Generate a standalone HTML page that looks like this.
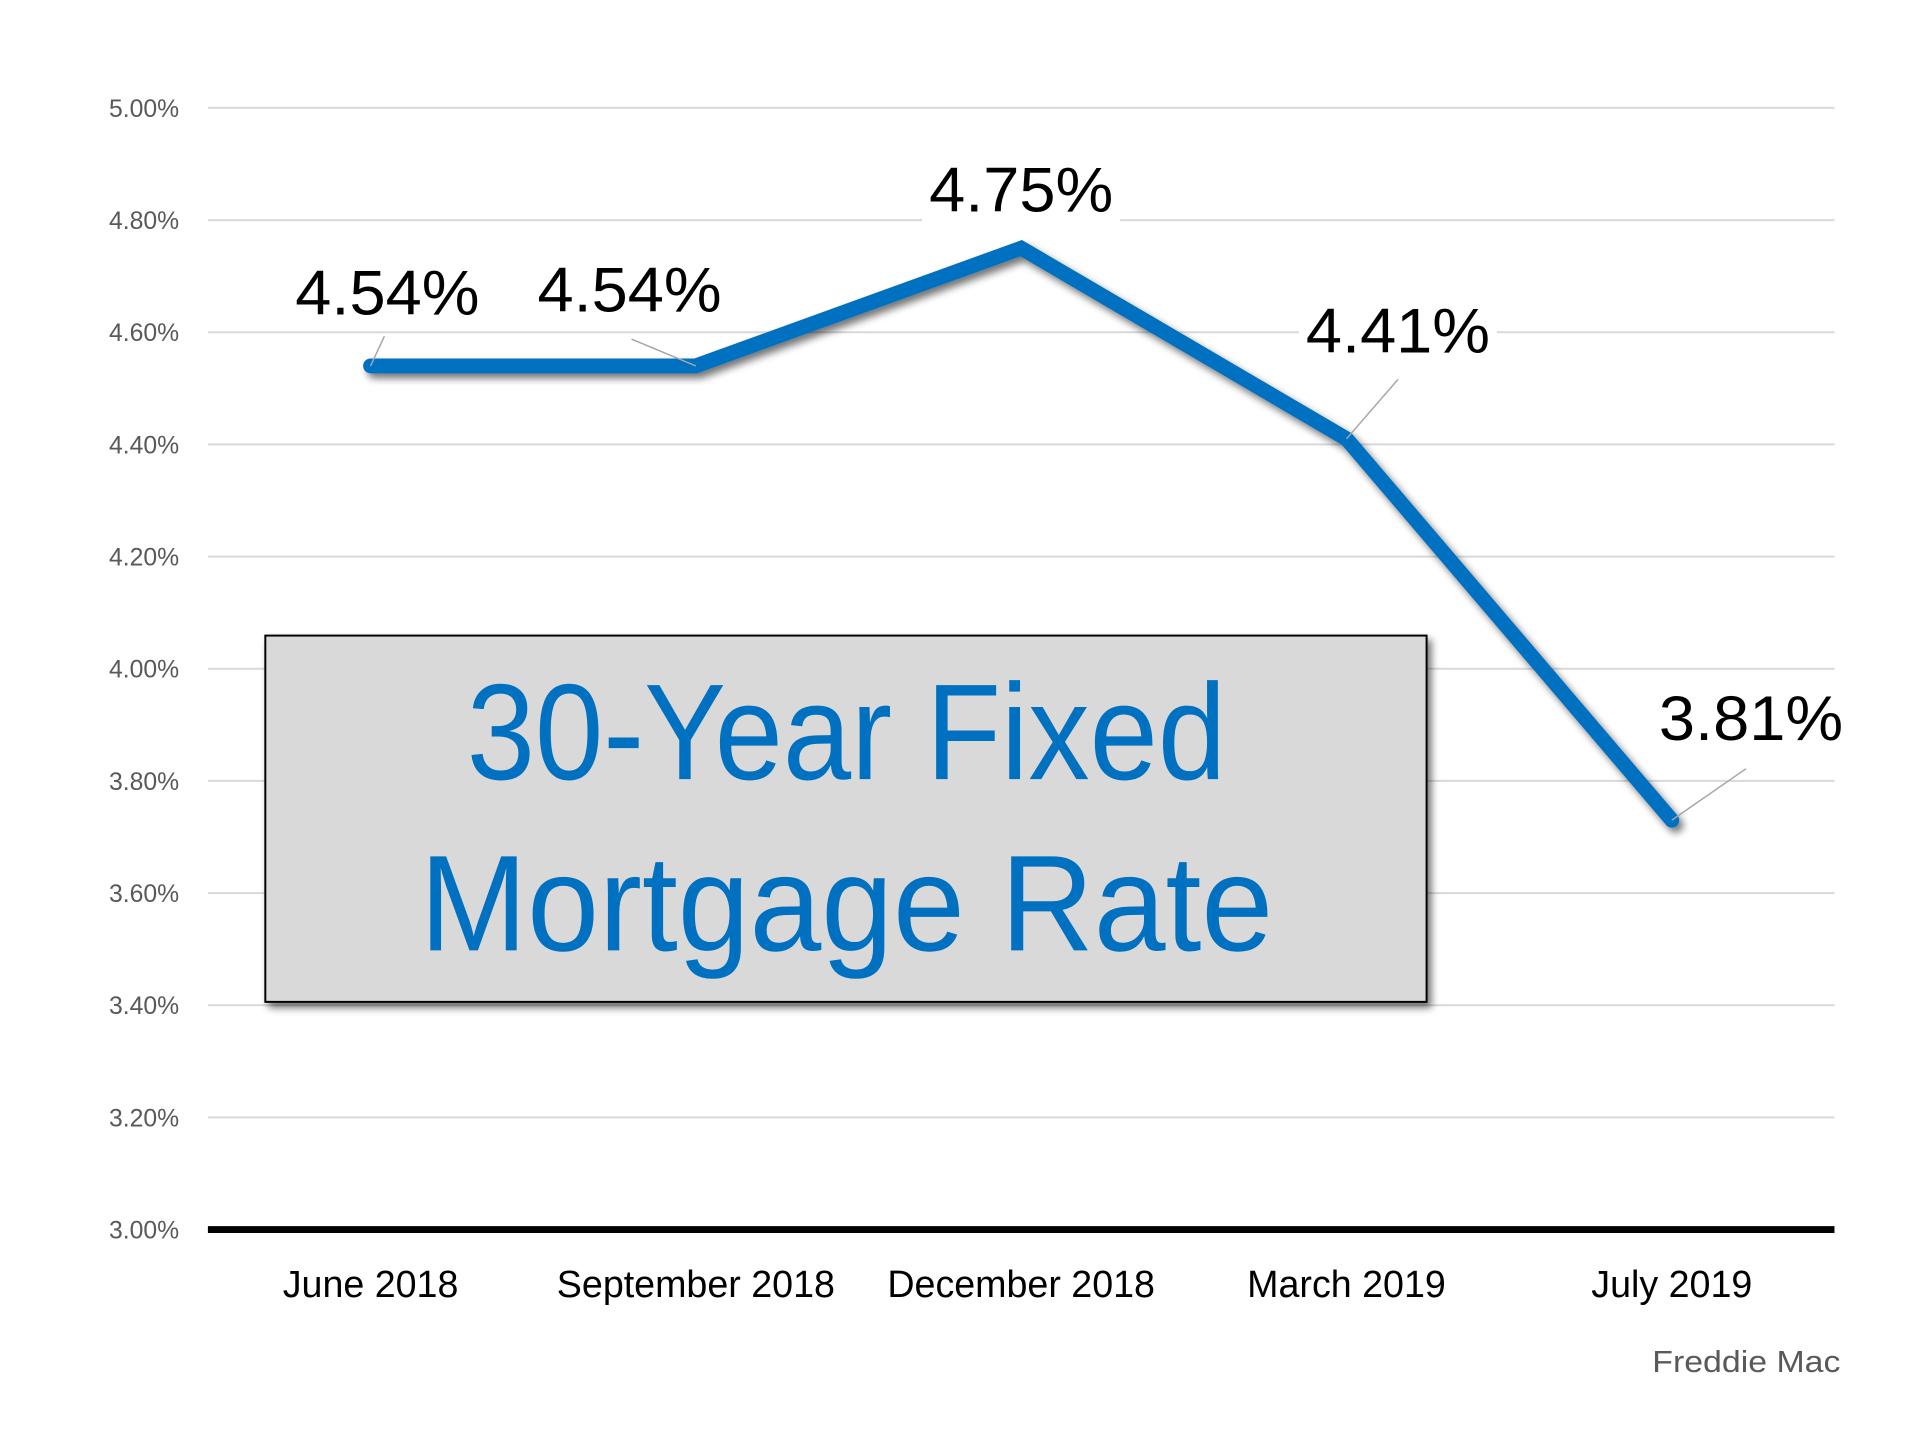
<!DOCTYPE html>
<html><head><meta charset="utf-8"><style>
html,body{margin:0;padding:0;background:#fff;}
svg{display:block;}
</style></head><body>
<svg id="chart" width="1920" height="1439" viewBox="0 0 1920 1439" xmlns="http://www.w3.org/2000/svg" font-family="'Liberation Sans', sans-serif">
<defs>
<filter id="sh" x="-10%" y="-10%" width="120%" height="120%"><feGaussianBlur in="SourceAlpha" stdDeviation="4"/><feOffset dx="4" dy="5"/><feComponentTransfer><feFuncA type="linear" slope="0.55"/></feComponentTransfer><feMerge><feMergeNode/><feMergeNode in="SourceGraphic"/></feMerge></filter>
</defs>
<g transform="scale(0.99)">
<g id="grid"></g>
<g id="yticks"></g>
<g id="xlabels"></g>
<g id="series"></g>
<g id="box">
<rect x="268" y="642" width="1173" height="370" fill="#d9d9d9" stroke="#000" stroke-width="2" filter="url(#sh)"/>
<text x="855" y="787" text-anchor="middle" font-size="138" fill="#0070c0" textLength="767" lengthAdjust="spacingAndGlyphs">30-Year Fixed</text>
<text x="855" y="960" text-anchor="middle" font-size="138" fill="#0070c0" textLength="862" lengthAdjust="spacingAndGlyphs">Mortgage Rate</text>
</g>
<g id="labels"></g>
<text x="1859" y="1386" text-anchor="end" font-size="31" fill="#595959" textLength="190" lengthAdjust="spacingAndGlyphs">Freddie Mac</text>
</g>
</svg>
<script>
const categories = ["June 2018","September 2018","December 2018","March 2019","July 2019"];
const values = [4.54, 4.54, 4.75, 4.41, 3.73];
const valueLabels = ["4.54%","4.54%","4.75%","4.41%","3.81%"];
const yTicks = [3.0,3.2,3.4,3.6,3.8,4.0,4.2,4.4,4.6,4.8,5.0];
const yTickLabels = ["3.00%","3.20%","3.40%","3.60%","3.80%","4.00%","4.20%","4.40%","4.60%","4.80%","5.00%"];

const NS="http://www.w3.org/2000/svg";
const X0=210,X1=1853,Y0=1242,Y1=109,YMIN=3,YMAX=5;
const band=(X1-X0)/categories.length;
function xS(i){return X0+band*(i+0.5);}
function yS(v){return Y0-(v-YMIN)/(YMAX-YMIN)*(Y0-Y1);}
function mk(tag,attrs,parent){const e=document.createElementNS(NS,tag);for(const k in attrs)e.setAttribute(k,attrs[k]);parent.appendChild(e);return e;}
const grid=document.getElementById('grid'),yt=document.getElementById('yticks'),xl=document.getElementById('xlabels'),ser=document.getElementById('series'),lab=document.getElementById('labels');
yTicks.forEach((t,i)=>{
  if(i>0){const g=mk('line',{x1:X0,x2:X1,y1:yS(t),y2:yS(t),stroke:'#d9d9d9','stroke-width':2},grid);
  
  }
  const tx=mk('text',{x:181,y:yS(t)+9,'text-anchor':'end','font-size':25,fill:'#595959'},yt);
  tx.textContent=yTickLabels[i];
  
  
});
const ax=mk('line',{x1:X0,x2:X1,y1:Y0,y2:Y0,stroke:'#000','stroke-width':7},grid);


categories.forEach((c,i)=>{
  const tx=mk('text',{x:xS(i),y:1310,'text-anchor':'middle','font-size':38,fill:'#000'},xl);
  tx.textContent=c;
  
  
});
const pts=values.map((v,i)=>xS(i)+','+yS(v)).join(' ');
const pl=mk('polyline',{points:pts,fill:'none',stroke:'#0070c0','stroke-width':15,'stroke-linejoin':'miter','stroke-linecap':'round',filter:'url(#sh)'},ser);


// label offsets relative to the point (style, not data)
const off=[[17,-52,14,-30],[-67,-55,-65,-27],[0,-37,0,0],[52,-87,52,-60],[80,-81,75,-52]];
values.forEach((v,i)=>{
  const px=xS(i),py=yS(v),o=off[i];
  if(o[2]||o[3]){const ln=mk('line',{x1:px,y1:py,x2:px+o[2],y2:py+o[3],stroke:'#a6a6a6','stroke-width':1.5},lab);
  
  }
  const bg=mk('rect',{x:px+o[0]-100,y:py+o[1]-58,width:200,height:70,fill:'#fff'},lab);
  
  
  const tx=mk('text',{x:px+o[0],y:py+o[1],'text-anchor':'middle','font-size':64,fill:'#000',textLength:186,lengthAdjust:'spacingAndGlyphs'},lab);
  tx.textContent=valueLabels[i];
  
  
});
</script>
</body></html>
